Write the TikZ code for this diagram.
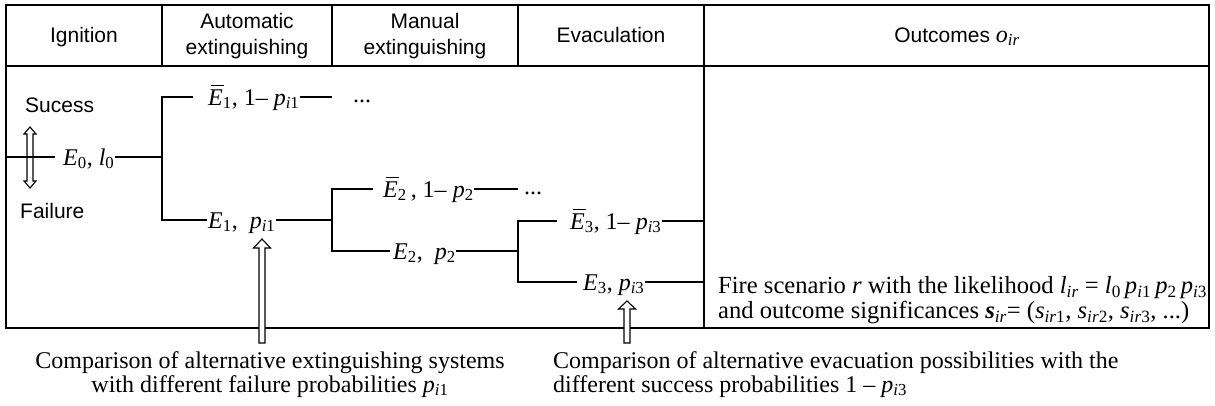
\documentclass[tikz,border=0pt]{standalone}
\usepackage{fontspec}
\setmainfont{Liberation Serif}
\newfontfamily\hdrfont{Liberation Sans}
\usetikzlibrary{calc}
\newcommand\sbs[1]{\textsubscript{#1}}
\newcommand\vE{\textit{E}}
\newcommand\bE{\makebox[0pt][l]{\hspace{2.5pt}\rule[19pt]{13pt}{1.4pt}}\textit{E}}
\newcommand\lgap[1]{\hspace*{#1pt}}
\newcommand\pv{\textit{p}}
\newcommand\iv{\textit{i}}
\begin{document}
\begin{tikzpicture}[x=1pt,y=-1pt,
  tbl/.style={line width=1.6pt},
  br/.style={line width=1.3pt},
  lbl/.style={anchor=west,inner sep=0pt,text height=16pt,text depth=0pt,font=\fontsize{24}{27}\selectfont},
  hdr/.style={inner sep=0pt,align=center,font=\hdrfont\fontsize{21}{26}\selectfont},
  txt/.style={inner sep=0pt,font=\fontsize{24}{27}\selectfont},
  otxt/.style={inner sep=0pt,anchor=north west,align=left,font=\fontsize{24.6}{25}\selectfont},
  harrow/.style={line width=1.1pt,fill=white,line join=miter}]
\useasboundingbox (0,0) rectangle (1215,405);
% table
\draw[tbl] (6,5) rectangle (1209,328);
\draw[tbl] (6,66) -- (1209,66);
\draw[tbl] (162,5) -- (162,66);
\draw[tbl] (332,5) -- (332,66);
\draw[tbl] (518,5) -- (518,66);
\coordinate (c4) at (704,5);
\draw[tbl] (c4) -- (704,328);
% headers
\node[hdr,anchor=base] (h1) at (84,42) {Ignition};
\node[hdr,anchor=center] (h2) at (247,36) {Automatic\\extinguishing};
\node[hdr,anchor=center] (h3) at (425,36) {Manual\\extinguishing};
\node[hdr,anchor=base] (h4) at (611,42) {Evaculation};
\node[hdr,anchor=base] (h5) at (957,42) {Outcomes {\rmfamily\fontsize{24}{27}\selectfont\textit{o}\sbs{\textit{ir}}}};
% success / failure
\node[hdr,anchor=base west] (suc) at (25,112) {Sucess};
\node[hdr,anchor=base west] (fai) at (20,218) {Failure};
\coordinate (dt) at (30,127);
\coordinate (db) at (30,188);
\draw[harrow] (dt) -- ($(dt)+(6,7)$) -- ($(dt)+(3,7)$) -- ($(db)+(3,-7)$) -- ($(db)+(6,-7)$) -- (db) -- ($(db)+(-6,-7)$) -- ($(db)+(-3,-7)$) -- ($(dt)+(-3,7)$) -- ($(dt)+(-6,7)$) -- cycle;
% tree
\coordinate (root) at (6,157);
\node[lbl] (E0) at (55,157) {\lgap{8}\vE\sbs{0}, \textit{l}\sbs{0}};
\coordinate (f1) at (162,157);
\draw[br] (root) -- (E0.west);
\draw[br] (E0.east) -- (f1);
\node[lbl] (Eb1) at (193,97) {\lgap{15}\bE\sbs{1}, 1– \pv\sbs{\iv1}};
\node[lbl] (E1) at (207,220) {\lgap{1}\vE\sbs{1}, \ \pv\sbs{\iv1}};
\draw[br] (Eb1.west) -| (f1) |- (E1.west);
\coordinate (f2) at (332,220);
\draw[br] (E1.east) -- (f2);
\draw[br] (Eb1.east) -- (Eb1.east -| f2);
\node[txt,anchor=base] (d1) at (362,102) {...};
\node[lbl] (Eb2) at (373,189) {\lgap{10}\bE\sbs{2}\,, 1– \pv\sbs{2}};
\node[lbl] (E2) at (390,251) {\lgap{3}\vE\sbs{2}, \ \pv\sbs{2}};
\draw[br] (Eb2.west) -| (f2) |- (E2.west);
\coordinate (f3) at (518,251);
\draw[br] (E2.east) -- (f3);
\draw[br] (Eb2.east) -- (Eb2.east -| f3);
\node[txt,anchor=base] (d2) at (533,194) {...};
\node[lbl] (Eb3) at (557,221) {\lgap{13}\bE\sbs{3}, 1– \pv\sbs{\iv3}};
\node[lbl] (E3) at (577,282) {\lgap{6}\vE\sbs{3}, \pv\sbs{\iv3}};
\draw[br] (Eb3.west) -| (f3) |- (E3.west);
\draw[br] (Eb3.east) -- (Eb3.east -| c4);
\draw[br] (E3.east) -- (E3.east -| c4);
% outcome text
\node[otxt] (out) at (718,276) {Fire scenario \textit{r} with the likelihood \textit{l}\sbs{\textit{ir}} = \textit{l}\sbs{0}\,\pv\sbs{\iv1}\,\pv\sbs{2}\,\pv\sbs{\iv3}\\and outcome significances \textbf{\textit{s}}\sbs{\textit{ir}}= (\textit{s}\sbs{\textit{ir}1}, \textit{s}\sbs{\textit{ir}2}, \textit{s}\sbs{\textit{ir}3}, ...)};
% bottom annotations
\node[txt,anchor=base] (c1a) at (270,368) {Comparison of alternative extinguishing systems};
\node[txt,anchor=base] (c1b) at (270,392) {with different failure probabilities \pv\sbs{\iv1}};
\node[txt,anchor=base west] (c2a) at (553,368) {Comparison of alternative evacuation possibilities with the};
\node[txt,anchor=base west] (c2b) at (553,392) {different success probabilities 1 – \pv\sbs{\iv3}};
% comparison arrows
\coordinate (a1t) at (262,239);
\coordinate (a1b) at (262,343);
\draw[harrow] ($(a1b)+(-3,0)$) -- ($(a1t)+(-3,9)$) -- ($(a1t)+(-8.5,9)$) -- (a1t) -- ($(a1t)+(8.5,9)$) -- ($(a1t)+(3,9)$) -- ($(a1b)+(3,0)$) -- cycle;
\coordinate (a2t) at (627,301);
\coordinate (a2b) at (627,343);
\draw[harrow] ($(a2b)+(-3,0)$) -- ($(a2t)+(-3,8)$) -- ($(a2t)+(-8.5,8)$) -- (a2t) -- ($(a2t)+(8.5,8)$) -- ($(a2t)+(3,8)$) -- ($(a2b)+(3,0)$) -- cycle;
\end{tikzpicture}
\end{document}
